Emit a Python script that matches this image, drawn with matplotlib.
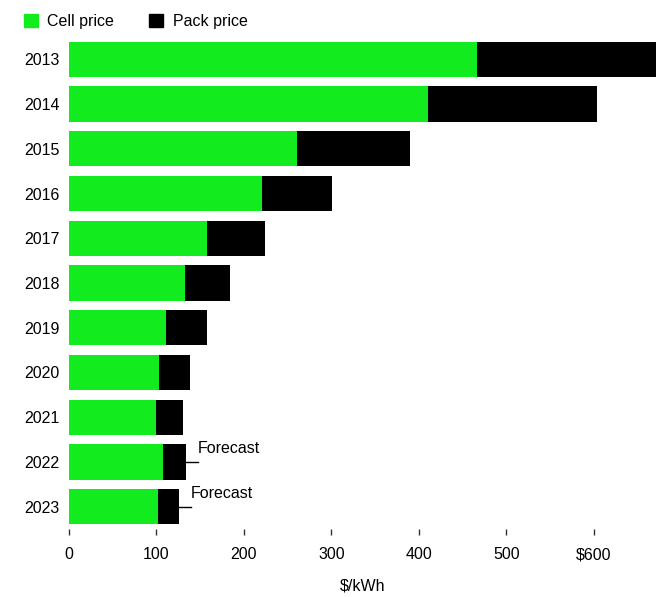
import matplotlib.pyplot as plt
from matplotlib.patches import Patch

plt.rcParams["font.family"] = ["Liberation Sans", "DejaVu Sans"]

years = ["2013", "2014", "2015", "2016", "2017", "2018",
         "2019", "2020", "2021", "2022", "2023"]
cell_price = [466, 410, 261, 221, 158, 133, 111, 103, 100, 107, 102]
pack_price = [684, 603, 390, 301, 224, 184, 158, 138, 130, 134, 126]
forecast_years = ["2022", "2023"]
xticks = [0, 100, 200, 300, 400, 500, 600]
xtick_labels = ["0", "100", "200", "300", "400", "500", "$600"]

green = "#12ec1f"
black = "#000000"

fig = plt.figure(figsize=(6.56, 5.97), dpi=100)
ax = fig.add_axes([69 / 656, 1 - 529 / 597, 1 - 69 / 656, 492 / 597])

pos = list(range(len(years)))
pack_extra = [p - c for p, c in zip(pack_price, cell_price)]
ax.barh(pos, cell_price, height=0.79, color=green)
ax.barh(pos, pack_extra, left=cell_price, height=0.79, color=black)

ax.set_ylim(len(years) - 0.5, -0.5)
ax.set_xlim(0, 671)
ax.set_yticks(pos)
ax.set_yticklabels(years, fontsize=11.5)
ax.set_xticks(xticks)
ax.set_xticklabels(xtick_labels, fontsize=11.5)
ax.tick_params(axis="y", length=0, pad=7)
ax.tick_params(axis="x", length=4, width=1, color="#333333", pad=9)
for s in ax.spines.values():
    s.set_visible(False)
ax.set_xlabel("$/kWh", fontsize=11.5, labelpad=12)

# forecast call-outs
for yr in forecast_years:
    i = years.index(yr)
    end = pack_price[i]
    ax.plot([end, end + 13], [i, i], color=black, lw=1, clip_on=False)
    ax.text(end + 13, i - 0.3, "Forecast", fontsize=11.5, ha="left", va="center")

handles = [Patch(color=green, label="Cell price"), Patch(color=black, label="Pack price")]
fig.legend(handles=handles, loc="upper left", bbox_to_anchor=(0.015, 1.0), ncol=2,
           frameon=False, fontsize=11.5, handlelength=0.85, handleheight=0.85,
           handletextpad=0.6, columnspacing=2.2)

fig.savefig("out.png", dpi=100)
